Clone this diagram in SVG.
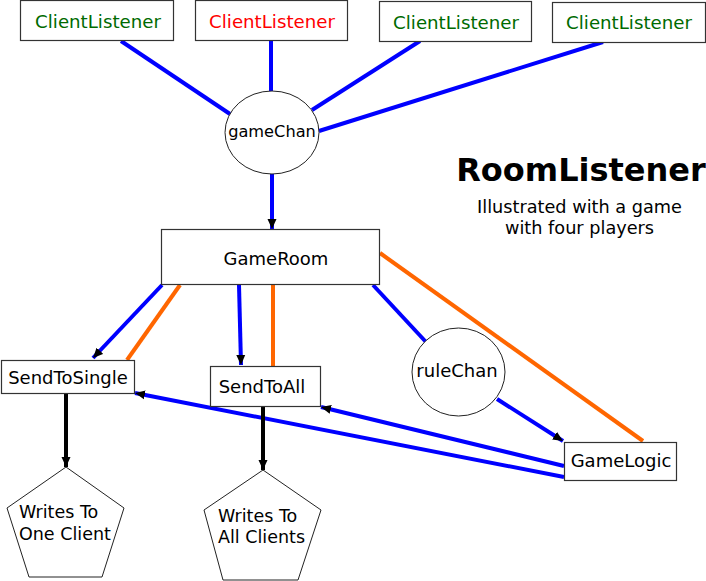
<svg xmlns="http://www.w3.org/2000/svg" width="706" height="581" viewBox="0 0 706 581">
<style>
text{font-family:"DejaVu Sans","Liberation Sans",sans-serif;font-size:18px;fill:#000}
.box{fill:#fff;stroke:#333;stroke-width:1.2}
.ell{fill:#fff;stroke:#222;stroke-width:1}
.cl{font-size:18.2px;fill:#006a00;text-anchor:middle}
.b{stroke:#0000ff;stroke-width:4;fill:none}
.o{stroke:#ff6600;stroke-width:4;fill:none}
.k{stroke:#000;stroke-width:4;fill:none}
.mid{text-anchor:middle}
.pt{font-size:17.5px}
</style>
<defs>
<marker id="ah" markerUnits="userSpaceOnUse" markerWidth="11" markerHeight="10" refX="10" refY="5" orient="auto">
<path d="M0,0.5 L10,5 L0,9.5 z" fill="#000"/>
</marker>
</defs>
<g id="connectors">
<line class="b" x1="121" y1="41" x2="230" y2="114"/>
<line class="b" x1="271" y1="41" x2="271" y2="91"/>
<line class="b" x1="420" y1="41" x2="312" y2="110"/>
<line class="b" x1="603" y1="42" x2="319" y2="131"/>
<line class="b" x1="272" y1="174" x2="272" y2="229" marker-end="url(#ah)"/>
<line class="b" x1="162" y1="285" x2="93" y2="358" marker-end="url(#ah)"/>
<line class="o" x1="180" y1="285" x2="127" y2="360"/>
<line class="b" x1="239" y1="285" x2="241" y2="365" marker-end="url(#ah)"/>
<line class="o" x1="273" y1="285" x2="273" y2="366"/>
<line class="b" x1="373" y1="285" x2="426" y2="342"/>
<line class="o" x1="380" y1="253" x2="643" y2="441"/>
<line class="b" x1="497" y1="399" x2="563" y2="441" marker-end="url(#ah)"/>
<line class="b" x1="564" y1="466" x2="321" y2="407" marker-end="url(#ah)"/>
<line class="b" x1="564" y1="477" x2="135" y2="393" marker-end="url(#ah)"/>
<line class="k" x1="66" y1="393" x2="66" y2="467" marker-end="url(#ah)"/>
<line class="k" x1="263" y1="407" x2="263" y2="470" marker-end="url(#ah)"/>
</g>
<g id="cl1"><rect class="box" x="20.5" y="0.5" width="153" height="40"/><text class="cl" x="98" y="28">ClientListener</text></g>
<g id="cl2"><rect class="box" x="195.5" y="0.5" width="152" height="40"/><text class="cl" x="272" y="28" style="fill:#ff0000">ClientListener</text></g>
<g id="cl3"><rect class="box" x="379.5" y="1.5" width="152" height="40"/><text class="cl" x="456" y="29">ClientListener</text></g>
<g id="cl4"><rect class="box" x="552.5" y="2.5" width="153" height="40"/><text class="cl" x="629" y="29">ClientListener</text></g>
<g id="gameChan"><ellipse class="ell" cx="272" cy="132.5" rx="47" ry="41.5"/><text class="mid" x="272" y="137" style="font-size:16.2px">gameChan</text></g>
<g id="title"><text class="mid" x="581" y="181" style="font-size:32px;font-weight:bold">RoomListener</text>
<text class="mid" x="579.5" y="213" style="font-size:17.7px">Illustrated with a game</text>
<text class="mid" x="579.5" y="234" style="font-size:17.7px">with four players</text></g>
<g id="gameRoom"><rect class="box" x="161.5" y="229.5" width="218" height="55"/><text class="mid" x="276" y="265">GameRoom</text></g>
<g id="sendToSingle"><rect class="box" x="1.5" y="360.5" width="133" height="33"/><text class="mid" x="68" y="384">SendToSingle</text></g>
<g id="sendToAll"><rect class="box" x="210.5" y="366.5" width="110" height="40"/><text class="mid" x="262" y="393">SendToAll</text></g>
<g id="ruleChan"><ellipse class="ell" cx="458.5" cy="372" rx="46.5" ry="44"/><text class="mid" x="457" y="377">ruleChan</text></g>
<g id="gameLogic"><rect class="box" x="564.5" y="442.5" width="112" height="38"/><text class="mid" x="621" y="467">GameLogic</text></g>
<g id="writesOne"><polygon class="ell" points="66,467 124,508 102,577 29,577 7,508"/><text class="pt" x="19" y="518">Writes To</text><text class="pt" x="19" y="540">One Client</text></g>
<g id="writesAll"><polygon class="ell" points="263,470 321,510 298,580 223,580 204,510"/><text class="pt" x="218" y="522">Writes To</text><text class="pt" x="218" y="543">All Clients</text></g>
</svg>
